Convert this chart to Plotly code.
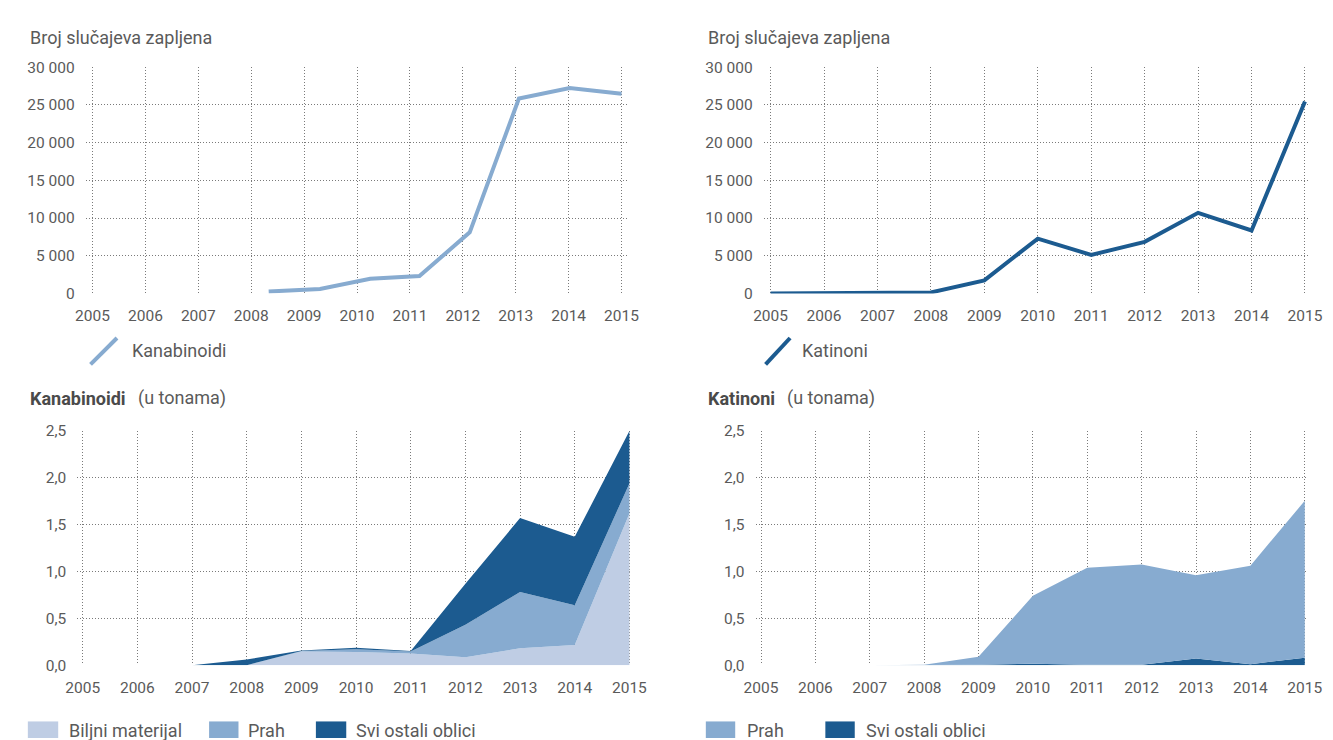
import plotly.graph_objects as go

# ---------------- data ----------------
years = [2005, 2006, 2007, 2008, 2009, 2010, 2011, 2012, 2013, 2014, 2015]
year_labels = [str(y) for y in years]

# Top-left: Kanabinoidi, broj slučajeva zapljena (points as drawn in the source)
kan_cases_x = [2008.33, 2009.3, 2010.25, 2011.18, 2012.13, 2013.06, 2014.02, 2015]
kan_cases_y = [250, 600, 1950, 2300, 8100, 25850, 27250, 26500]

# Top-right: Katinoni, broj slučajeva zapljena
kat_cases_x = years
kat_cases_y = [0, 0, 0, 130, 1730, 7270, 5110, 6840, 10690, 8350, 25450]

case_ticks = [0, 5000, 10000, 15000, 20000, 25000, 30000]
case_tick_labels = ['0', '5 000', '10 000', '15 000', '20 000', '25 000', '30 000']

# Bottom-left: Kanabinoidi (u tonama), stacked
kan_t_years = [2007, 2008, 2009, 2010, 2011, 2012, 2013, 2014, 2015]
kan_biljni = [0, 0, 0.145, 0.14, 0.125, 0.085, 0.18, 0.215, 1.62]
kan_prah = [0, 0, 0.005, 0.03, 0.02, 0.345, 0.60, 0.425, 0.32]
kan_ostali = [0, 0.06, 0.005, 0.015, 0.005, 0.44, 0.79, 0.73, 0.56]

# Bottom-right: Katinoni (u tonama), stacked
kat_t_years = [2007, 2008, 2009, 2010, 2011, 2012, 2013, 2014, 2015]
kat_ostali = [0, 0, 0.005, 0.015, 0.003, 0.003, 0.07, 0.01, 0.08]
kat_prah = [0, 0.005, 0.085, 0.725, 1.037, 1.072, 0.89, 1.052, 1.675]

ton_ticks = [0, 0.5, 1.0, 1.5, 2.0, 2.5]
ton_tick_labels = ['0,0', '0,5', '1,0', '1,5', '2,0', '2,5']

# ---------------- style ----------------
C_LIGHT = '#bfcde4'
C_MID = '#87abd0'
C_DARK = '#1c5b90'
TXT = '#5a5a5a'
GRID = '#7a7a7a'
FONT = 'Roboto'
W, H = 1333, 740


def px(x):
    return x / W


def py(y):
    return 1 - y / H


fig = go.Figure()

fig.add_trace(go.Scatter(x=kan_cases_x, y=kan_cases_y, mode='lines',
                         line=dict(color=C_MID, width=4), xaxis='x', yaxis='y',
                         name='Kanabinoidi', showlegend=False))
fig.add_trace(go.Scatter(x=kat_cases_x, y=kat_cases_y, mode='lines',
                         line=dict(color=C_DARK, width=4), xaxis='x2', yaxis='y2',
                         name='Katinoni', showlegend=False))

for name, vals, col in [('Biljni materijal', kan_biljni, C_LIGHT),
                        ('Prah', kan_prah, C_MID),
                        ('Svi ostali oblici', kan_ostali, C_DARK)]:
    fig.add_trace(go.Scatter(x=kan_t_years, y=vals, mode='lines', stackgroup='kan',
                             line=dict(width=0, color=col), fillcolor=col,
                             xaxis='x3', yaxis='y3', name=name, showlegend=False))

for name, vals, col in [('Svi ostali oblici', kat_ostali, C_DARK),
                        ('Prah', kat_prah, C_MID)]:
    fig.add_trace(go.Scatter(x=kat_t_years, y=vals, mode='lines', stackgroup='kat',
                             line=dict(width=0, color=col), fillcolor=col,
                             xaxis='x4', yaxis='y4', name=name, showlegend=False))

common_x = dict(tickvals=years, ticktext=year_labels, showgrid=True, gridcolor=GRID,
                griddash='1px,2px', gridwidth=1, zeroline=False, showline=False,
                ticks='', ticklabelstandoff=11,
                tickfont=dict(family=FONT, size=15.5, color=TXT), fixedrange=True)
common_y = dict(showgrid=True, gridcolor=GRID, griddash='1px,2px', gridwidth=1,
                zeroline=False, showline=False, ticks='', ticklabelstandoff=10,
                tickfont=dict(family=FONT, size=15.5, color=TXT), fixedrange=True)

fig.update_layout(
    width=W, height=H,
    margin=dict(l=0, r=0, t=0, b=0),
    paper_bgcolor='white', plot_bgcolor='white',
    showlegend=False,
    xaxis=dict(common_x, domain=[px(67), px(621)], range=[2004.87, 2015.13], anchor='y'),
    yaxis=dict(common_y, domain=[py(283.3), py(51.5)], range=[0, 30000],
               tickvals=case_ticks, ticktext=case_tick_labels, anchor='x'),
    xaxis2=dict(common_x, domain=[px(759), px(1317)], range=[2004.87, 2015.1], anchor='y2'),
    yaxis2=dict(common_y, domain=[py(283.3), py(51.5)], range=[0, 30000],
                tickvals=case_ticks, ticktext=case_tick_labels, anchor='x2'),
    xaxis3=dict(common_x, domain=[px(58.4), px(624.8)], range=[2004.9, 2015.05], anchor='y3'),
    yaxis3=dict(common_y, domain=[py(664.3), py(424.3)], range=[0, 2.5],
                tickvals=ton_ticks, ticktext=ton_tick_labels, anchor='x3'),
    xaxis4=dict(common_x, domain=[px(750.8), px(1314.1)], range=[2004.9, 2015.05], anchor='y4'),
    yaxis4=dict(common_y, domain=[py(664.3), py(424.3)], range=[0, 2.5],
                tickvals=ton_ticks, ticktext=ton_tick_labels, anchor='x4'),
)

ann = []


def text(x, y, s, size=18, color=TXT, xanchor='left'):
    ann.append(dict(x=px(x), y=py(y), xref='paper', yref='paper', text=s,
                    showarrow=False, xanchor=xanchor, yanchor='middle',
                    font=dict(family=FONT, size=size, color=color)))


text(8, 21, 'Broj slučajeva zapljena')
text(700, 21, 'Broj slučajeva zapljena')
text(8, 391, '<b>Kanabinoidi</b>', 18, '#4a4a4a')
text(118, 391, '(u tonama)')
text(700, 391, '<b>Katinoni</b>', 18, '#4a4a4a')
text(781, 391, '(u tonama)')

# legends
text(112, 342, 'Kanabinoidi')
text(796, 342, 'Katinoni')
text(48, 731, 'Biljni materijal')
text(231, 731, 'Prah')
text(341, 731, 'Svi ostali oblici')
text(740, 731, 'Prah')
text(861, 731, 'Svi ostali oblici')

shapes = []
shapes.append(dict(type='line', xref='paper', yref='paper', x0=px(72), y0=py(356),
                   x1=px(99), y1=py(329), line=dict(color=C_MID, width=4)))
shapes.append(dict(type='line', xref='paper', yref='paper', x0=px(761), y0=py(356),
                   x1=px(786), y1=py(329), line=dict(color=C_DARK, width=4)))
for x0, x1, col in [(8, 39, C_LIGHT), (193, 223, C_MID), (302, 333, C_DARK),
                    (700, 730, C_MID), (822, 852, C_DARK)]:
    shapes.append(dict(type='rect', xref='paper', yref='paper', x0=px(x0), x1=px(x1),
                       y0=py(739), y1=py(722), fillcolor=col, line=dict(width=0)))

fig.update_layout(annotations=ann, shapes=shapes)

fig.write_html('out.html')
